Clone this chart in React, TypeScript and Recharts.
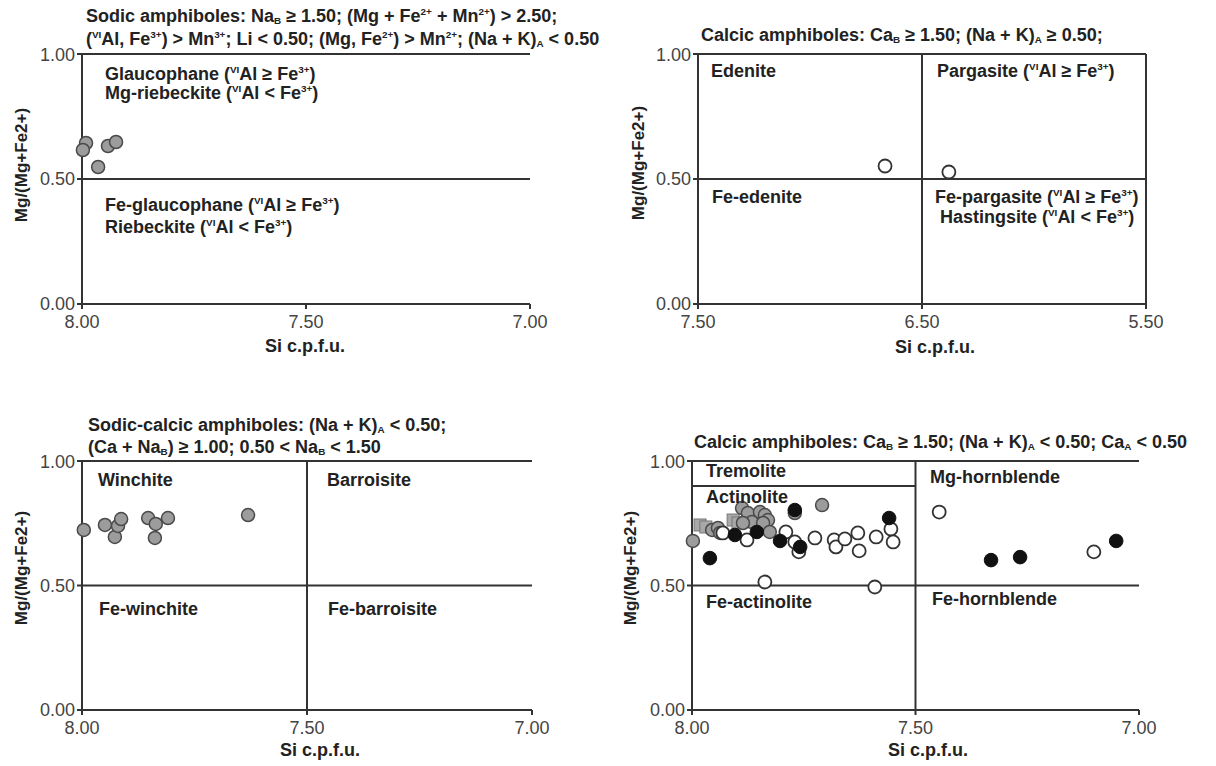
import React from "react";
import { ScatterChart, Scatter, XAxis, YAxis, ReferenceLine } from "recharts";

// Sodic amphiboles: [Si, Mg/(Mg+Fe2+)]
const sodicGrey = [
  [7.991, 0.644],
  [7.998, 0.616],
  [7.964, 0.548],
  [7.942, 0.632],
  [7.924, 0.648],
];

// Calcic amphiboles, (Na+K)A >= 0.50
const calcicHighOpen = [
  [6.665, 0.552],
  [6.38, 0.528],
];

// Sodic-calcic amphiboles
const sodicCalcicGrey = [
  [7.996, 0.723],
  [7.949, 0.743],
  [7.927, 0.695],
  [7.92, 0.739],
  [7.913, 0.767],
  [7.853, 0.771],
  [7.836, 0.747],
  [7.838, 0.691],
  [7.809, 0.771],
  [7.631, 0.783],
];

// Calcic amphiboles, (Na+K)A < 0.50
const calcicLowSquares = [
  [7.982, 0.743],
  [7.969, 0.735],
  [7.908, 0.763],
  [7.897, 0.751],
];
const calcicLowGrey = [
  [7.998, 0.679],
  [7.955, 0.723],
  [7.942, 0.731],
  [7.937, 0.711],
  [7.888, 0.811],
  [7.875, 0.791],
  [7.848, 0.795],
  [7.837, 0.783],
  [7.83, 0.763],
  [7.866, 0.755],
  [7.886, 0.751],
  [7.841, 0.751],
  [7.826, 0.715],
  [7.77, 0.791],
  [7.709, 0.823],
];
const calcicLowOpen = [
  [7.931, 0.711],
  [7.877, 0.683],
  [7.79, 0.715],
  [7.77, 0.675],
  [7.761, 0.635],
  [7.725, 0.691],
  [7.682, 0.683],
  [7.678, 0.655],
  [7.658, 0.687],
  [7.629, 0.711],
  [7.626, 0.639],
  [7.588, 0.695],
  [7.555, 0.727],
  [7.55, 0.675],
  [7.837, 0.514],
  [7.591, 0.494],
  [7.447, 0.795],
  [7.101, 0.635],
];
const calcicLowBlack = [
  [7.96, 0.61],
  [7.904, 0.703],
  [7.855, 0.715],
  [7.803, 0.679],
  [7.77, 0.803],
  [7.758, 0.655],
  [7.559, 0.771],
  [7.331, 0.602],
  [7.266, 0.614],
  [7.051, 0.679],
];

const Y_TICKS = [0, 0.5, 1];
const SI_TICKS_HIGH = [7, 7.5, 8];
const SI_TICKS_LOW = [5.5, 6.5, 7.5];

const FONT = '"Liberation Sans", Arial, Helvetica, sans-serif';
const AXIS = "#333";

const toPts = (arr: number[][]) => arr.map(([si, mg]) => ({ si, mg }));

const greyDot = (p: any) => (
  <circle cx={p.cx} cy={p.cy} r={6.5} fill="#9c9c9c" stroke="#4a4a4a" strokeWidth={1.5} />
);
const openDot = (p: any) => (
  <circle cx={p.cx} cy={p.cy} r={6.5} fill="#fff" stroke="#333" strokeWidth={1.8} />
);
const blackDot = (p: any) => (
  <circle cx={p.cx} cy={p.cy} r={6.8} fill="#111" stroke="#111" strokeWidth={1} />
);
const greySquare = (p: any) => (
  <rect x={p.cx - 6} y={p.cy - 6} width={12} height={12} fill="#a8a8a8" stroke="#777" strokeWidth={1} />
);

const Sup = ({ children }: any) => (
  <span style={{ fontSize: "0.55em", verticalAlign: "0.75em", lineHeight: 0 }}>{children}</span>
);
const Sub = ({ children }: any) => (
  <span style={{ fontSize: "0.55em", verticalAlign: "-0.25em", lineHeight: 0 }}>{children}</span>
);

function Txt({ x, y, children, center }: any) {
  return (
    <div
      style={{
        position: "absolute",
        left: x,
        top: y - 11,
        fontFamily: FONT,
        fontWeight: 700,
        fontSize: 18,
        lineHeight: "22px",
        whiteSpace: "nowrap",
        color: "#222",
        transform: center ? "translateX(-50%)" : undefined,
      }}
    >
      {children}
    </div>
  );
}

function YTitle({ x, y }: any) {
  return (
    <div
      style={{
        position: "absolute",
        left: x,
        top: y,
        fontFamily: FONT,
        fontWeight: 700,
        fontSize: 17,
        whiteSpace: "nowrap",
        color: "#222",
        transform: "translate(-50%, -50%) rotate(-90deg)",
      }}
    >
      Mg/(Mg+Fe2+)
    </div>
  );
}

function Panel({ l, r, t, b, domain, ticks, children }: any) {
  const yw = 80;
  return (
    <div style={{ position: "absolute", left: l - yw, top: t - 10 }}>
      <ScatterChart
        width={r - l + yw + 20}
        height={b - t + 50}
        margin={{ top: 10, right: 20, bottom: 0, left: 0 }}
      >
        <XAxis
          type="number"
          dataKey="si"
          domain={domain}
          ticks={ticks}
          reversed
          height={40}
          tickFormatter={(v: number) => v.toFixed(2)}
          tick={{ fill: "#444", fontSize: 18, fontFamily: FONT }}
          axisLine={{ stroke: AXIS, strokeWidth: 2 }}
          tickLine={{ stroke: AXIS, strokeWidth: 2 }}
          tickSize={5}
          tickMargin={6}
        />
        <YAxis
          type="number"
          dataKey="mg"
          domain={[0, 1]}
          ticks={Y_TICKS}
          width={yw}
          tickFormatter={(v: number) => v.toFixed(2)}
          tick={{ fill: "#444", fontSize: 18, fontFamily: FONT }}
          axisLine={{ stroke: AXIS, strokeWidth: 2 }}
          tickLine={{ stroke: AXIS, strokeWidth: 2 }}
          tickSize={5}
        />
        <ReferenceLine y={1} stroke={AXIS} strokeWidth={2} />
        <ReferenceLine y={0.5} stroke={AXIS} strokeWidth={2} />
        {children}
      </ScatterChart>
    </div>
  );
}

export default function App() {
  return (
    <div style={{ position: "absolute", left: 0, top: 0, width: 1216, height: 766, background: "#fff", overflow: "hidden" }}>
      {/* top left: sodic */}
      <Panel l={82} r={530} t={54} b={304} domain={[7, 8]} ticks={SI_TICKS_HIGH}>
        <Scatter data={toPts(sodicGrey)} shape={greyDot} isAnimationActive={false} />
      </Panel>
      <Txt x={86} y={16}>
        Sodic amphiboles: Na<Sub>B</Sub> ≥ 1.50; (Mg + Fe<Sup>2+</Sup> + Mn<Sup>2+</Sup>) &gt; 2.50;
      </Txt>
      <Txt x={86} y={39}>
        (<Sup>VI</Sup>Al, Fe<Sup>3+</Sup>) &gt; Mn<Sup>3+</Sup>; Li &lt; 0.50; (Mg, Fe<Sup>2+</Sup>) &gt; Mn<Sup>2+</Sup>; (Na + K)<Sub>A</Sub> &lt; 0.50
      </Txt>
      <Txt x={105} y={74}>Glaucophane (<Sup>VI</Sup>Al ≥ Fe<Sup>3+</Sup>)</Txt>
      <Txt x={105} y={93}>Mg-riebeckite (<Sup>VI</Sup>Al &lt; Fe<Sup>3+</Sup>)</Txt>
      <Txt x={105} y={205}>Fe-glaucophane (<Sup>VI</Sup>Al ≥ Fe<Sup>3+</Sup>)</Txt>
      <Txt x={105} y={227}>Riebeckite (<Sup>VI</Sup>Al &lt; Fe<Sup>3+</Sup>)</Txt>
      <Txt x={305} y={346} center>Si c.p.f.u.</Txt>
      <YTitle x={22} y={165} />

      {/* top right: calcic (Na+K)A >= 0.50 */}
      <Panel l={698} r={1146} t={54} b={304} domain={[5.5, 7.5]} ticks={SI_TICKS_LOW}>
        <ReferenceLine x={6.5} stroke={AXIS} strokeWidth={2} />
        <ReferenceLine x={5.5} stroke={AXIS} strokeWidth={2} />
        <Scatter data={toPts(calcicHighOpen)} shape={openDot} isAnimationActive={false} />
      </Panel>
      <Txt x={701} y={35}>
        Calcic amphiboles: Ca<Sub>B</Sub> ≥ 1.50; (Na + K)<Sub>A</Sub> ≥ 0.50;
      </Txt>
      <Txt x={711} y={71}>Edenite</Txt>
      <Txt x={937} y={71}>Pargasite (<Sup>VI</Sup>Al ≥ Fe<Sup>3+</Sup>)</Txt>
      <Txt x={712} y={197}>Fe-edenite</Txt>
      <Txt x={935} y={197}>Fe-pargasite (<Sup>VI</Sup>Al ≥ Fe<Sup>3+</Sup>)</Txt>
      <Txt x={940} y={217}>Hastingsite (<Sup>VI</Sup>Al &lt; Fe<Sup>3+</Sup>)</Txt>
      <Txt x={935} y={347} center>Si c.p.f.u.</Txt>
      <YTitle x={639} y={163} />

      {/* bottom left: sodic-calcic */}
      <Panel l={82} r={532} t={461} b={710} domain={[7, 8]} ticks={SI_TICKS_HIGH}>
        <ReferenceLine x={7.5} stroke={AXIS} strokeWidth={2} />
        <Scatter data={toPts(sodicCalcicGrey)} shape={greyDot} isAnimationActive={false} />
      </Panel>
      <Txt x={88} y={425}>
        Sodic-calcic amphiboles: (Na + K)<Sub>A</Sub> &lt; 0.50;
      </Txt>
      <Txt x={88} y={447}>
        (Ca + Na<Sub>B</Sub>) ≥ 1.00; 0.50 &lt; Na<Sub>B</Sub> &lt; 1.50
      </Txt>
      <Txt x={98} y={480}>Winchite</Txt>
      <Txt x={327} y={480}>Barroisite</Txt>
      <Txt x={99} y={609}>Fe-winchite</Txt>
      <Txt x={328} y={609}>Fe-barroisite</Txt>
      <Txt x={320} y={750} center>Si c.p.f.u.</Txt>
      <YTitle x={22} y={568} />

      {/* bottom right: calcic (Na+K)A < 0.50 */}
      <Panel l={692} r={1139} t={461} b={710} domain={[7, 8]} ticks={SI_TICKS_HIGH}>
        <ReferenceLine x={7.5} stroke={AXIS} strokeWidth={2} />
        <ReferenceLine segment={[{ x: 8, y: 0.9 }, { x: 7.5, y: 0.9 }]} stroke={AXIS} strokeWidth={2} />
        <Scatter data={toPts(calcicLowSquares)} shape={greySquare} isAnimationActive={false} />
        <Scatter data={toPts(calcicLowGrey)} shape={greyDot} isAnimationActive={false} />
        <Scatter data={toPts(calcicLowOpen)} shape={openDot} isAnimationActive={false} />
        <Scatter data={toPts(calcicLowBlack)} shape={blackDot} isAnimationActive={false} />
      </Panel>
      <Txt x={694} y={442}>
        Calcic amphiboles: Ca<Sub>B</Sub> ≥ 1.50; (Na + K)<Sub>A</Sub> &lt; 0.50; Ca<Sub>A</Sub> &lt; 0.50
      </Txt>
      <Txt x={706} y={471}>Tremolite</Txt>
      <Txt x={706} y={497}>Actinolite</Txt>
      <Txt x={930} y={477}>Mg-hornblende</Txt>
      <Txt x={706} y={602}>Fe-actinolite</Txt>
      <Txt x={932} y={599}>Fe-hornblende</Txt>
      <Txt x={928} y={750} center>Si c.p.f.u.</Txt>
      <YTitle x={631} y={568} />
    </div>
  );
}
